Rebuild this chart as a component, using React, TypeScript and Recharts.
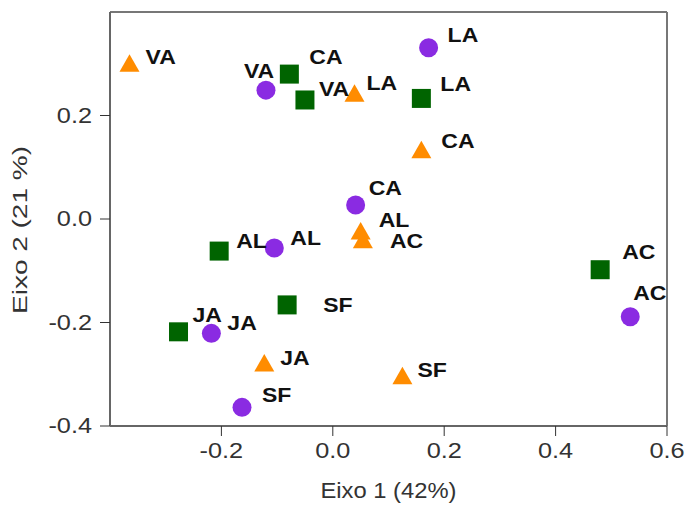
import React from 'react';
import { ScatterChart, Scatter, XAxis, YAxis, ReferenceLine } from 'recharts';

// sampling sites, same order in every series
const sites = ['VA', 'LA', 'CA', 'AL', 'AC', 'JA', 'SF'];

// orange triangles
const triX = [-0.365, 0.039, 0.159, 0.050, 0.054, -0.123, 0.125];
const triY = [0.297, 0.239, 0.130, -0.027, -0.044, -0.282, -0.307];

// purple circles
const circX = [-0.120, 0.172, 0.041, -0.105, 0.534, -0.218, -0.163];
const circY = [0.249, 0.331, 0.027, -0.056, -0.189, -0.221, -0.364];

// green squares
const sqX = [-0.050, 0.159, -0.078, -0.204, 0.480, -0.277, -0.082];
const sqY = [0.230, 0.233, 0.280, -0.062, -0.098, -0.218, -0.166];

const xTicks = [-0.2, 0, 0.2, 0.4, 0.6];
const yTicks = [-0.4, -0.2, 0, 0.2];

const toPoints = (xs: number[], ys: number[]) =>
  sites.map((name, i) => ({ name, x: xs[i], y: ys[i] }));

// label placement (px from the marker centre), tuned by eye
const triOffsets: Record<string, [number, number]> = {
  VA: [16, -8], LA: [12, -12], CA: [20, -11], AL: [18, -13], AC: [27, -1], JA: [16, -7], SF: [15, -8],
};
const circOffsets: Record<string, [number, number]> = {
  VA: [-22, -19], LA: [19, -13], CA: [13, -17], AL: [16, -10], AC: [3, -24], JA: [16, -10], SF: [20, -12],
};
const sqOffsets: Record<string, [number, number]> = {
  VA: [14, -11], LA: [19, -14], CA: [20, -17], AL: [17, -10], AC: [22, -18], JA: [14, -17], SF: [36, 0],
};

const STRETCH = 1.15;

const makeShape = (kind: string, color: string, offsets: Record<string, [number, number]>) => (props: any) => {
  const { cx, cy, payload } = props;
  const [dx, dy] = offsets[payload.name] || [15, -10];
  let mark;
  if (kind === 'circle') {
    mark = <circle cx={cx} cy={cy} r={9.5} fill={color} />;
  } else if (kind === 'square') {
    mark = <rect x={cx - 9.5} y={cy - 9.5} width={19} height={19} fill={color} />;
  } else {
    mark = <polygon points={`${cx},${cy - 11} ${cx - 10},${cy + 6.5} ${cx + 10},${cy + 6.5}`} fill={color} />;
  }
  return (
    <g>
      {mark}
      <text
        transform={`translate(${cx + dx},${cy + dy}) scale(${STRETCH},1)`}
        dominantBaseline="central"
        fontSize={20}
        fontWeight="bold"
        fill="#111"
      >
        {payload.name}
      </text>
    </g>
  );
};

const XTick = (props: any) => {
  const { x, y, payload } = props;
  return (
    <text transform={`translate(${x},${y}) scale(${STRETCH},1)`} textAnchor="middle" dy="0.71em" fontSize={22} fill="#333">
      {Number(payload.value).toFixed(1)}
    </text>
  );
};

const YTick = (props: any) => {
  const { x, y, payload } = props;
  return (
    <text transform={`translate(${x},${y}) scale(${STRETCH},1)`} textAnchor="end" dominantBaseline="central" fontSize={22} fill="#333">
      {Number(payload.value).toFixed(1)}
    </text>
  );
};

const App = () => {
  return (
    <div style={{ position: 'absolute', left: 0, top: 0, fontFamily: '"Liberation Sans", Arial, sans-serif' }}>
      <ScatterChart width={685} height={508} margin={{ top: 12, right: 18, bottom: 0, left: 0 }}>
        <XAxis
          type="number"
          dataKey="x"
          domain={[-0.4, 0.6]}
          ticks={xTicks}
          height={82}
          tick={<XTick />}
          tickSize={10}
          tickMargin={6}
          tickLine={{ stroke: '#333' }}
          axisLine={{ stroke: '#666', strokeWidth: 2 }}
          allowDataOverflow
          label={(p: any) => {
            const vb = p.viewBox || { x: 110, y: 426, width: 557, height: 82 };
            return (
              <text
                x={vb.x + vb.width / 2}
                y={vb.y + 64}
                textAnchor="middle"
                dominantBaseline="central"
                fontSize={22}
                fill="#333"
                textLength={136}
                lengthAdjust="spacingAndGlyphs"
              >
                Eixo 1 (42%)
              </text>
            );
          }}
        />
        <YAxis
          type="number"
          dataKey="y"
          domain={[-0.4, 0.4]}
          ticks={yTicks}
          width={110}
          tick={<YTick />}
          tickSize={10}
          tickMargin={8}
          tickLine={{ stroke: '#333' }}
          axisLine={{ stroke: '#666', strokeWidth: 2 }}
          allowDataOverflow
          label={(p: any) => {
            const vb = p.viewBox || { x: 0, y: 12, width: 110, height: 414 };
            return (
              <text
                transform={`translate(${vb.x + 20},${vb.y + vb.height / 2 + 11}) rotate(-90)`}
                textAnchor="middle"
                dominantBaseline="central"
                fontSize={20}
                fill="#333"
                textLength={168}
                lengthAdjust="spacingAndGlyphs"
              >
                Eixo 2 (21 %)
              </text>
            );
          }}
        />
        <ReferenceLine y={0.4} stroke="#777" strokeWidth={2} />
        <ReferenceLine x={0.6} stroke="#777" strokeWidth={2} />
        <Scatter data={toPoints(triX, triY)} shape={makeShape('triangle', '#FF8C00', triOffsets)} isAnimationActive={false} />
        <Scatter data={toPoints(circX, circY)} shape={makeShape('circle', '#8A2BE2', circOffsets)} isAnimationActive={false} />
        <Scatter data={toPoints(sqX, sqY)} shape={makeShape('square', '#006400', sqOffsets)} isAnimationActive={false} />
      </ScatterChart>
    </div>
  );
};

export default App;
